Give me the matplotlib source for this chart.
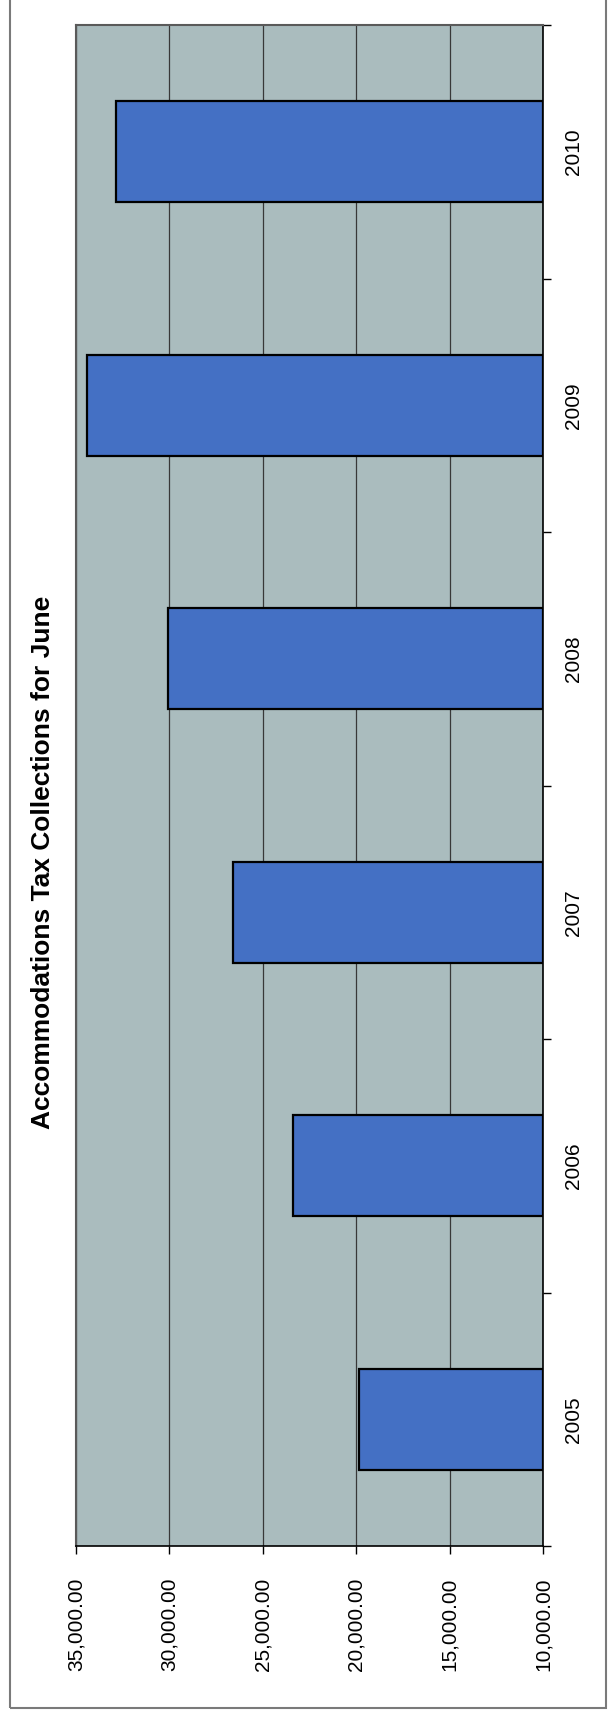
import matplotlib
matplotlib.use("Agg")
import matplotlib.pyplot as plt
from matplotlib.patches import Rectangle
from matplotlib.ticker import FuncFormatter, FixedLocator

plt.rcParams['font.family'] = ['Liberation Sans', 'DejaVu Sans']

# June accommodations tax collections by year
years = ["2005", "2006", "2007", "2008", "2009", "2010"]
collections = [19850, 23400, 26600, 30050, 34430, 32840]
value_ticks = [10000, 15000, 20000, 25000, 30000, 35000]
title = "Accommodations Tax Collections for June"

W, H = 613, 1713
fig = plt.figure(figsize=(W / 100, H / 100), dpi=100)
fig.patch.set_facecolor("white")

# Outer chart frame (top edge runs off the page)
fig.patches.append(Rectangle((9.5 / W, 1 - 1708 / H), (606 - 9.5) / W, 1708 / H + 0.01,
                             transform=fig.transFigure, fill=False,
                             edgecolor="#7a7a7a", linewidth=1.5, clip_on=False))

left, right, top, bottom = 76, 543, 25, 1546
ax = fig.add_axes([left / W, 1 - bottom / H, (right - left) / W, (bottom - top) / H])
ax.set_facecolor("#AABCBE")

pos = list(range(len(years)))
base = value_ticks[0]
ax.barh(pos, [v - base for v in collections], left=base, height=0.4,
        color="#4470C4", edgecolor="black", linewidth=1.6, zorder=3)

ax.set_xlim(value_ticks[-1], value_ticks[0])
ax.set_ylim(-0.5, len(years) - 0.5)

# Value axis along the bottom
ax.xaxis.set_major_locator(FixedLocator(value_ticks))
ax.xaxis.set_major_formatter(FuncFormatter(lambda v, p: f"{v:,.2f}"))
ax.tick_params(axis="x", direction="out", length=6, width=1, color="black",
               pad=17, labelsize=15, labelrotation=90)
for lbl in ax.get_xticklabels():
    lbl.set_va("top")
ax.grid(axis="x", color="#383838", linewidth=0.9, zorder=1)

# Category axis along the right edge
ax.yaxis.tick_right()
ax.set_yticks(pos)
ax.set_yticklabels(years, rotation=90, va="center")
ax.set_yticks([p - 0.5 for p in range(len(years) + 1)], minor=True)
ax.tick_params(axis="y", which="major", length=0, pad=15, labelsize=15)
ax.tick_params(axis="y", which="minor", direction="out", length=6, width=1, color="black")

for s in ("top", "left"):
    ax.spines[s].set_color("#5a5a5a")
    ax.spines[s].set_linewidth(1.5)
for s in ("bottom", "right"):
    ax.spines[s].set_color("black")
    ax.spines[s].set_linewidth(1.2)

# Chart title, centred on the chart area
fig.text(43 / W, 1 - 862 / H, title, rotation=90,
         ha="center", va="center", fontsize=19, fontweight="bold")

fig.savefig("out.png", dpi=100)
